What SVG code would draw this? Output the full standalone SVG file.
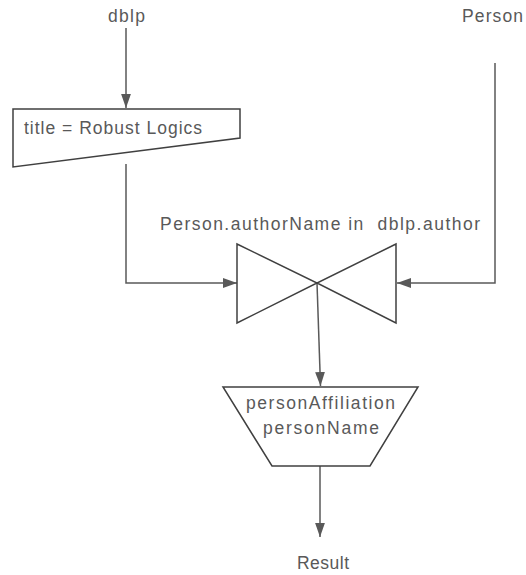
<svg xmlns="http://www.w3.org/2000/svg" width="526" height="575" viewBox="0 0 526 575">
<style>
text{font-family:"Liberation Sans",Arial,sans-serif;font-size:17.5px;fill:#595959;white-space:pre}
.shape{fill:#fff;stroke:#404040;stroke-width:1.5}
.conn{fill:none;stroke:#595959;stroke-width:1.5}
</style>
<defs>
<marker id="ah" markerWidth="14" markerHeight="20" refX="20" refY="7" viewBox="0 0 20 14" markerUnits="userSpaceOnUse" orient="auto">
<path d="M0,0 L20,7 L0,14 Z" fill="#595959"/>
</marker>
</defs>
<rect width="526" height="575" fill="#fff"/>
<g id="connectors">
<path class="conn" d="M126,28 L126,108" marker-end="url(#ah)"/>
<path class="conn" d="M126,164 L126,283 L237,283" marker-end="url(#ah)"/>
<path class="conn" d="M495,63 L495,283 L397,283" marker-end="url(#ah)"/>
<path class="conn" d="M317,283 L320.5,386" marker-end="url(#ah)"/>
<path class="conn" d="M320,466 L320,537" marker-end="url(#ah)"/>
</g>
<g id="dblp"><text x="108" y="22" textLength="37" lengthAdjust="spacing">dblp</text></g>
<g id="person"><text x="462" y="22" textLength="61" lengthAdjust="spacing">Person</text></g>
<g id="select">
<polygon class="shape" points="13,109 240,109 240,138 13,167"/>
<text x="24" y="134" textLength="178" lengthAdjust="spacing">title = Robust Logics</text>
</g>
<g id="join">
<polygon class="shape" points="237,244 317,283 237,323"/>
<polygon class="shape" points="396,244 317,283 396,323"/>
<text x="160" y="230" textLength="320" lengthAdjust="spacing">Person.authorName in  dblp.author</text>
</g>
<g id="project">
<polygon class="shape" points="223,387 418,387 370,466 272,466"/>
<text x="246" y="409" textLength="149" lengthAdjust="spacing">personAffiliation</text>
<text x="263" y="434" textLength="116" lengthAdjust="spacing">personName</text>
</g>
<g id="result"><text x="297" y="569" textLength="52" lengthAdjust="spacing">Result</text></g>
</svg>
